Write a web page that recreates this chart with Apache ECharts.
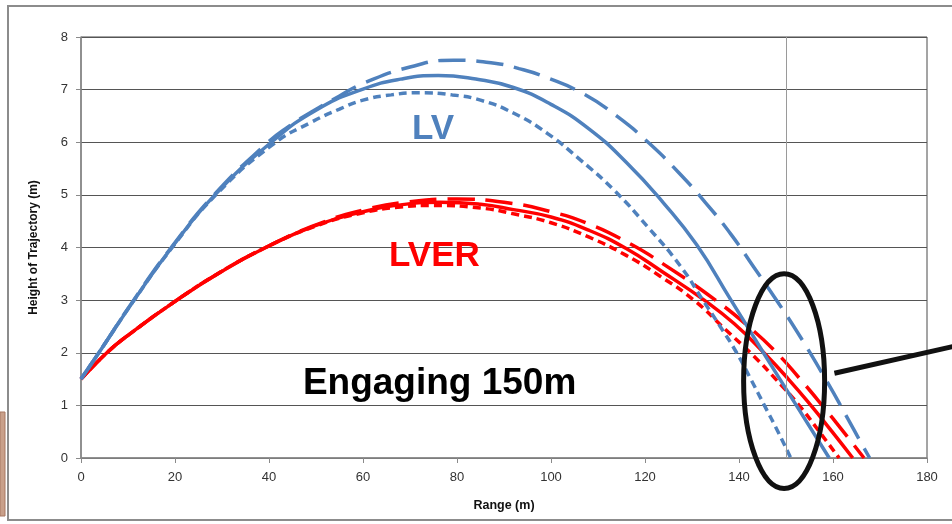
<!DOCTYPE html>
<html>
<head>
<meta charset="utf-8">
<script src="https://cdn.jsdelivr.net/npm/echarts@6/dist/echarts.min.js"></script>
<style>
html,body{margin:0;padding:0;background:#fff;}
#c{width:952px;height:524px;}
</style>
</head>
<body>
<div id="c"></div>
<script>
// ---- data (Range m, Height m) ----
var xTicks = [0, 20, 40, 60, 80, 100, 120, 140, 160, 180];
var yTicks = [0, 1, 2, 3, 4, 5, 6, 7, 8];
var engageRange = 150;

var lvSolid = [[0,1.5],[3.8,2],[11.3,3],[19.3,4],[28.5,5],[40.5,6],[50,6.61],[60,7.01],[68,7.2],[76,7.27],[84,7.2],[92,7.04],[100,6.72],[108,6.26],[116,5.62],[124,4.84],[131,4.05],[138.3,3.0],[145.2,2.0],[152.2,1.0],[159.2,0]];
var lvLong = [[0,1.5],[3.8,2],[11.2,3],[19.2,4],[28.3,5],[39.8,6.0],[44.2,6.30],[49.1,6.58],[55,6.88],[60.1,7.12],[70,7.43],[79.3,7.56],[88,7.5],[93.2,7.40],[98.8,7.24],[106.7,6.93],[114.1,6.49],[120.9,5.98],[127.2,5.42],[132.9,4.85],[138.3,4.25],[143.2,3.62],[148.2,2.97],[153.2,2.28],[158.8,1.44],[162.7,0.82],[165.9,0.30],[167.8,0]];
var lvShort = [[0,1.5],[3.8,2],[11.3,3],[19.4,4],[28.7,5],[41,5.97],[49,6.38],[55,6.63],[60,6.80],[66,6.90],[72,6.94],[79,6.9],[85,6.80],[92.1,6.55],[99.2,6.17],[106.3,5.66],[113.4,5.09],[120.5,4.40],[127.6,3.64],[132.3,3.0],[136,2.5],[139.5,2.0],[142.5,1.5],[145.4,1.0],[148.3,0.5],[151,0]];

var lverSolid = [[0,1.5],[5.5,2],[10,2.33],[20.4,3],[30,3.55],[39.3,4],[50,4.42],[60,4.68],[68,4.81],[76.5,4.86],[85,4.82],[92,4.72],[100,4.58],[108,4.33],[116,3.98],[124,3.52],[132.6,3.0],[139,2.55],[145.3,2.0],[150.5,1.5],[155.3,1.0],[159.8,0.5],[164.2,0]];
var lverLong = [[0,1.5],[5.5,2],[10,2.33],[20.4,3],[30,3.55],[39.3,4],[50,4.43],[60,4.71],[70,4.87],[80,4.92],[90,4.86],[100,4.68],[108,4.45],[116,4.11],[124,3.68],[135,3.0],[142,2.5],[148,2.0],[153,1.5],[157.7,1.0],[162.2,0.5],[166.6,0]];
var lverShort = [[0,1.5],[5.5,2],[10,2.33],[20.4,3],[30,3.55],[39.3,4],[50,4.41],[60,4.66],[68,4.77],[75,4.80],[85,4.75],[92,4.64],[100,4.47],[108,4.2],[116,3.85],[123.3,3.45],[130.4,3.0],[137,2.45],[143,1.95],[148,1.48],[152.8,1.0],[157.1,0.5],[161.3,0]];

var labels = {lv: 'LV', lver: 'LVER', engage: 'Engaging 150m'};
var xTitle = 'Range (m)';
var yTitle = 'Height of Trajectory (m)';

// ---- styling ----
var BLUE = '#4F81BD', RED = '#FF0000';
var LW = 3.5;
var LONG = [27, 11], SHORT = [8, 5];

function mk(name, data, color, dash) {
  return {
    name: name, type: 'line', data: data, smooth: 0.5,
    showSymbol: false, symbol: 'none', silent: true, animation: false,
    lineStyle: {color: color, width: LW, type: dash || 'solid', cap: 'butt'},
    z: 3
  };
}

var series = [
  mk('LVER long', lverLong, RED, LONG),
  mk('LVER', lverSolid, RED),
  mk('LVER short', lverShort, RED, SHORT),
  mk('LV long', lvLong, BLUE, LONG),
  mk('LV', lvSolid, BLUE),
  mk('LV short', lvShort, BLUE, SHORT)
];
series[0].markLine = {
  silent: true, symbol: ['none', 'none'], animation: false,
  label: {show: false},
  lineStyle: {color: '#9a9a9a', width: 1, type: 'solid'},
  data: [{xAxis: engageRange}]
};

var chart = echarts.init(document.getElementById('c'), null, {renderer: 'canvas'});
var FONT = '"Liberation Sans", Arial, sans-serif';
chart.setOption({
  animation: false,
  backgroundColor: '#ffffff',
  textStyle: {fontFamily: FONT},
  grid: {left: 81, right: 25, top: 37, bottom: 66, show: true, borderColor: '#4a4a4a', borderWidth: 1, backgroundColor: 'transparent'},
  xAxis: {
    type: 'value', min: xTicks[0], max: xTicks[xTicks.length - 1], interval: 20,
    name: xTitle, nameLocation: 'middle', nameGap: 41,
    nameTextStyle: {fontFamily: FONT, fontWeight: 'bold', fontSize: 12.5, color: '#111'},
    axisLine: {show: true, lineStyle: {color: '#8a8a8a', width: 1.5}},
    axisTick: {show: true, length: 5, inside: false, lineStyle: {color: '#8a8a8a'}},
    axisLabel: {fontFamily: FONT, fontSize: 13, color: '#333', margin: 13},
    splitLine: {show: false}
  },
  yAxis: {
    type: 'value', min: yTicks[0], max: yTicks[yTicks.length - 1], interval: 1,
    name: yTitle, nameLocation: 'middle', nameGap: 41, nameRotate: 90,
    nameTextStyle: {fontFamily: FONT, fontWeight: 'bold', fontSize: 12, color: '#111'},
    axisLine: {show: true, lineStyle: {color: '#8a8a8a', width: 1.5}},
    axisTick: {show: true, length: 5, inside: false, lineStyle: {color: '#8a8a8a'}},
    axisLabel: {fontFamily: FONT, fontSize: 13, color: '#333', margin: 13},
    splitLine: {show: true, lineStyle: {color: '#555555', width: 1}}
  },
  series: series
});

function px(x, y) { return chart.convertToPixel({gridIndex: 0}, [x, y]); }
var lvPos = px(74.9, 6.25), lverPos = px(75.2, 3.83), engPos = px(76.3, 1.41);
var ellC = px(149.6, 1.46);
var ellTop = px(149.6, 3.5);
var ry = ellC[1] - ellTop[1];
var rx = 40.5;
var lineStart = px(160.3, 1.61);

chart.setOption({
  graphic: [
    {type: 'rect', shape: {x: 8, y: 6, width: 960, height: 514}, style: {fill: 'none', stroke: '#8c8c8c', lineWidth: 2}, silent: true, z: 0},
    {type: 'rect', shape: {x: 0, y: 412, width: 5, height: 104}, style: {fill: '#c9a08a', stroke: '#a87862', lineWidth: 1}, silent: true},
    {type: 'text', x: lvPos[0], y: lvPos[1], style: {text: labels.lv, fill: BLUE, font: 'bold 35px ' + FONT, textAlign: 'center', textVerticalAlign: 'middle'}, z: 10},
    {type: 'text', x: lverPos[0], y: lverPos[1], style: {text: labels.lver, fill: RED, font: 'bold 35px ' + FONT, textAlign: 'center', textVerticalAlign: 'middle'}, z: 10},
    {type: 'text', x: engPos[0], y: engPos[1], style: {text: labels.engage, fill: '#000', font: 'bold 37px ' + FONT, textAlign: 'center', textVerticalAlign: 'middle'}, z: 10},
    {type: 'ellipse', shape: {cx: ellC[0], cy: ellC[1], rx: rx, ry: ry}, style: {fill: 'none', stroke: '#111', lineWidth: 5}, z: 10},
    {type: 'line', shape: {x1: lineStart[0], y1: lineStart[1], x2: 960, y2: 345}, style: {stroke: '#111', lineWidth: 5}, z: 10}
  ]
});
</script>
</body>
</html>
